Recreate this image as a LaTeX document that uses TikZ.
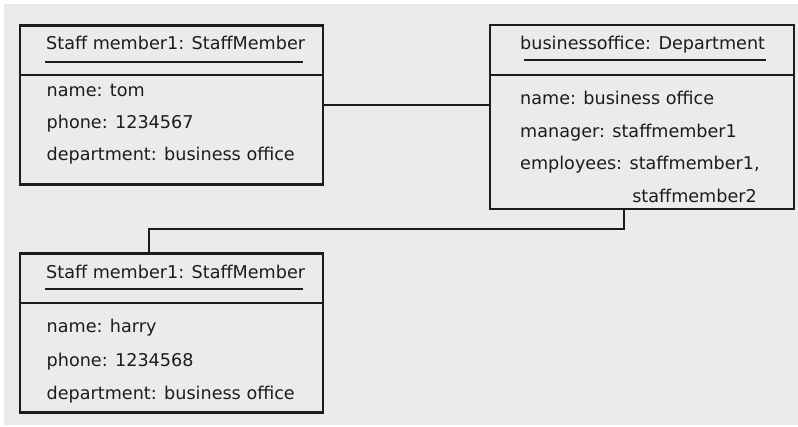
\documentclass[tikz,border=0pt]{standalone}
\usepackage{fontspec}
\setmainfont{DejaVu Sans}
\definecolor{bggray}{HTML}{EBEBEB}
\definecolor{ink}{HTML}{1C1C1C}
\tikzset{
  objbox/.style={draw=ink, line width=2.2pt, rectangle, inner sep=0pt},
  objtext/.style={anchor=base west, text=ink, inner sep=0pt, font=\fontsize{17.6}{20}\selectfont},
  uline/.style={draw=ink, line width=1.4pt},
  link/.style={draw=ink, line width=2.2pt},
}
\begin{document}
\begin{tikzpicture}[x=1pt,y=-1pt]
  \useasboundingbox (0,0) rectangle (798,427);
  \fill[bggray] (4,4) rectangle (798,425);
  % Objekt oben links (tom)
  \node[objbox, minimum width=303pt, minimum height=159pt] (tom) at (171.5,105) {};
  \draw[link] (tom.west |- 0,75) -- (tom.east |- 0,75);
  \node[objtext] (tomtitle) at (46,50) {Staff member1: StaffMember};
  \draw[uline] (45,62) -- (303,62);
  \node[objtext] (tomname) at (46.5,97) {name: tom};
  \node[objtext] (tomphone) at (46.5,129) {phone: 1234567};
  \node[objtext] (tomdept) at (46.5,161) {department: business office};
  % Objekt oben rechts (Abteilung)
  \node[objbox, minimum width=304pt, minimum height=184pt] (dept) at (642,117) {};
  \draw[link] (dept.west |- 0,75) -- (dept.east |- 0,75);
  \node[objtext] (depttitle) at (520,50) {businessoffice: Department};
  \draw[uline] (524,60) -- (766,60);
  \node[objtext] (deptname) at (520,105) {name: business office};
  \node[objtext] (deptmgr) at (520,137.5) {manager: staffmember1};
  \node[objtext] (deptemp) at (520,170) {employees: staffmember1,};
  \node[objtext, anchor=base east] (deptemp2) at (757,202.5) {staffmember2};
  % Objekt unten links (harry)
  \node[objbox, minimum width=303pt, minimum height=159pt] (harry) at (171.5,333) {};
  \draw[link] (harry.west |- 0,303) -- (harry.east |- 0,303);
  \node[objtext] (harrytitle) at (46,279) {Staff member1: StaffMember};
  \draw[uline] (45,289) -- (303,289);
  \node[objtext] (harryname) at (46.5,333) {name: harry};
  \node[objtext] (harryphone) at (46.5,367) {phone: 1234568};
  \node[objtext] (harrydept) at (46.5,400) {department: business office};
  % Verbindungen
  \coordinate (bendA) at (624,229);
  \coordinate (bendB) at (149,229);
  \draw[link] (tom.east) -- (tom.east -| dept.west);
  \draw[link] (dept.south -| bendA) -- (bendA) -- (bendB) -- (bendB |- harry.north);
\end{tikzpicture}
\end{document}
